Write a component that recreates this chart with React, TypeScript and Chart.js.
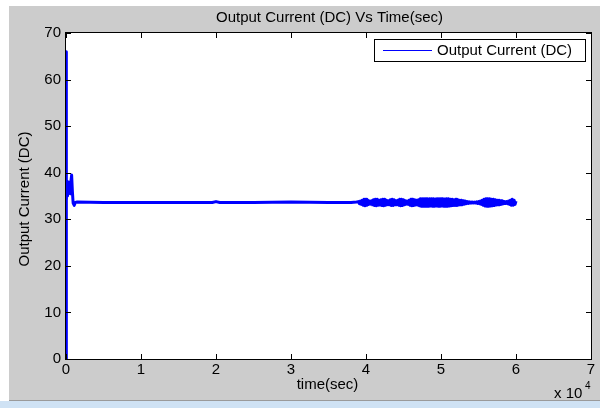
import React, { useEffect, useRef } from "react";
import { Chart, registerables } from "chart.js";

Chart.register(...registerables);

// ---- data ----
const earlyTime = [0, 1, 20, 40, 60, 100, 150, 200, 280, 350, 450, 550, 650, 750, 850, 950, 1100, 1250];
const earlyCurrent = [0, 66, 55, 53, 36, 34, 37, 35, 38, 36, 37.5, 35.5, 38, 39.5, 36, 33.5, 33, 33.6];

const plateauTime = [1500, 5000, 10000, 15000, 19500, 20000, 20500, 25000, 30000, 35000, 38000, 38750];
const plateauCurrent = [33.7, 33.6, 33.6, 33.6, 33.6, 33.8, 33.6, 33.6, 33.7, 33.6, 33.6, 33.7];

const rippleTime = [
  39000, 39125, 39250, 39375, 39500, 39625, 39750, 39875, 40000, 40125,
  40250, 40375, 40500, 40625, 40750, 40875, 41000, 41125, 41250, 41375,
  41500, 41625, 41750, 41875, 42000, 42125, 42250, 42375, 42500, 42625,
  42750, 42875, 43000, 43125, 43250, 43375, 43500, 43625, 43750, 43875,
  44000, 44125, 44250, 44375, 44500, 44625, 44750, 44875, 45000, 45125,
  45250, 45375, 45500, 45625, 45750, 45875, 46000, 46125, 46250, 46375,
  46500, 46625, 46750, 46875, 47000, 47125, 47250, 47375, 47500, 47625,
  47750, 47875, 48000, 48125, 48250, 48375, 48500, 48625, 48750, 48875,
  49000, 49125, 49250, 49375, 49500, 49625, 49750, 49875, 50000, 50125,
  50250, 50375, 50500, 50625, 50750, 50875, 51000, 51125, 51250, 51375,
  51500, 51625, 51750, 51875, 52000, 52125, 52250, 52375, 52500, 52625,
  52750, 52875, 53000, 53125, 53250, 53375, 53500, 53625, 53750, 53875,
  54000, 54125, 54250, 54375, 54500, 54625, 54750, 54875, 55000, 55125,
  55250, 55375, 55500, 55625, 55750, 55875, 56000, 56125, 56250, 56375,
  56500, 56625, 56750, 56875, 57000, 57125, 57250, 57375, 57500, 57625,
  57750, 57875, 58000, 58125, 58250, 58375, 58500, 58625, 58750, 58875,
  59000, 59125, 59250, 59375, 59500, 59625, 59750, 59875, 60000,
];
const rippleCurrent = [
  33.8, 33.35, 33.9, 33.2, 34.1, 33.0, 34.3, 32.9, 34.3, 33.0,
  34.1, 33.2, 33.9, 33.25, 34.0, 33.1, 34.2, 32.95, 34.3, 32.9,
  34.3, 33.0, 34.1, 33.05, 34.2, 32.95, 34.3, 32.9, 34.3, 33.0,
  34.1, 33.15, 34.0, 33.1, 34.2, 32.95, 34.3, 32.95, 34.2, 33.1,
  34.0, 33.15, 34.1, 33.0, 34.3, 32.9, 34.3, 32.95, 34.2, 33.1,
  34.0, 33.25, 33.9, 33.2, 34.1, 33.0, 34.3, 32.9, 34.3, 32.95,
  34.2, 33.05, 34.1, 33.05, 34.2, 32.9, 34.4, 32.8, 34.4, 32.8,
  34.4, 32.8, 34.4, 32.8, 34.35, 32.8, 34.4, 32.85, 34.4, 32.8,
  34.4, 32.8, 34.35, 32.85, 34.4, 32.8, 34.4, 32.8, 34.4, 32.85,
  34.4, 32.8, 34.35, 32.8, 34.4, 32.8, 34.4, 32.85, 34.3, 32.9,
  34.3, 32.95, 34.2, 32.95, 34.3, 32.95, 34.2, 33.05, 34.1, 33.1,
  34.1, 33.15, 34.0, 33.25, 33.9, 33.35, 33.8, 33.42, 33.75, 33.48,
  33.7, 33.5, 33.7, 33.5, 33.7, 33.5, 33.75, 33.42, 33.8, 33.35,
  33.9, 33.2, 34.1, 33.0, 34.3, 32.85, 34.4, 32.8, 34.4, 32.8,
  34.4, 32.85, 34.3, 32.9, 34.3, 32.95, 34.2, 33.05, 34.1, 33.1,
  34.1, 33.15, 34.0, 33.25, 33.9, 33.35, 33.8, 33.4, 33.8, 33.35,
  33.9, 33.2, 34.1, 33.0, 34.3, 33.0, 34.1, 33.2, 33.9,
];

const xTicks = [0, 10000, 20000, 30000, 40000, 50000, 60000, 70000];
const yTicks = [0, 10, 20, 30, 40, 50, 60, 70];

const titleText = "Output Current (DC) Vs Time(sec)";
const xLabel = "time(sec)";
const yLabel = "Output Current (DC)";
const seriesName = "Output Current (DC)";

const FONT = "'Liberation Sans', Arial, sans-serif";
const BLUE = "#0000ff";

export default function App() {
  const ref = useRef<HTMLCanvasElement | null>(null);

  useEffect(() => {
    const canvas = ref.current;
    if (!canvas) return;

    const times = [...earlyTime, ...plateauTime, ...rippleTime];
    const values = [...earlyCurrent, ...plateauCurrent, ...rippleCurrent];
    const points = times.map((t, i) => ({ x: t, y: values[i] }));

    const decor = {
      id: "matlabDecor",
      beforeDraw(chart: any) {
        const ctx = chart.ctx;
        const { left, top, right, bottom } = chart.chartArea;
        ctx.save();
        ctx.fillStyle = "#ffffff";
        ctx.fillRect(0, 0, 600, 408);
        ctx.fillStyle = "#cccccc";
        ctx.fillRect(9, 6, 591, 395);
        ctx.fillStyle = "#9a9a9a";
        ctx.fillRect(9, 400, 591, 1);
        ctx.fillStyle = "#cfe2f4";
        ctx.fillRect(0, 401, 600, 7);
        ctx.fillStyle = "#ffffff";
        ctx.fillRect(left, top, right - left, bottom - top);
        ctx.restore();
      },
      afterDraw(chart: any) {
        const ctx = chart.ctx;
        const { left, top, right, bottom } = chart.chartArea;
        const xs = chart.scales.x;
        const ys = chart.scales.y;
        ctx.save();
        // box
        ctx.strokeStyle = "#000000";
        ctx.lineWidth = 1;
        ctx.strokeRect(left - 0.5, top - 0.5, right - left + 1, bottom - top + 1);
        // ticks
        ctx.beginPath();
        xTicks.forEach((v) => {
          const px = Math.round(xs.getPixelForValue(v)) + 0.5;
          ctx.moveTo(px, bottom);
          ctx.lineTo(px, bottom - 5);
          ctx.moveTo(px, top);
          ctx.lineTo(px, top + 5);
        });
        yTicks.forEach((v) => {
          const py = Math.round(ys.getPixelForValue(v)) + 0.5;
          ctx.moveTo(left, py);
          ctx.lineTo(left + 5, py);
          ctx.moveTo(right, py);
          ctx.lineTo(right - 5, py);
        });
        ctx.stroke();

        ctx.fillStyle = "#000000";
        ctx.font = `15px ${FONT}`;
        ctx.textBaseline = "middle";
        ctx.textAlign = "center";
        ctx.fillText(titleText, (left + right) / 2 + 1, 18);
        ctx.fillText(xLabel, (left + right) / 2 - 1, 385);
        // exponent
        ctx.textAlign = "left";
        ctx.fillText("x 10", 554, 394);
        ctx.font = `10px ${FONT}`;
        ctx.fillText("4", 585, 386);
        // y label
        ctx.font = `15px ${FONT}`;
        ctx.save();
        ctx.translate(25, (top + bottom) / 2 + 3);
        ctx.rotate(-Math.PI / 2);
        ctx.textAlign = "center";
        ctx.fillText(yLabel, 0, 0);
        ctx.restore();

        // legend
        ctx.fillStyle = "#ffffff";
        ctx.fillRect(374, 39, 212, 23);
        ctx.strokeStyle = "#000000";
        ctx.strokeRect(374.5, 39.5, 211, 22);
        ctx.strokeStyle = BLUE;
        ctx.beginPath();
        ctx.moveTo(383, 50.5);
        ctx.lineTo(432, 50.5);
        ctx.stroke();
        ctx.fillStyle = "#000000";
        ctx.textAlign = "left";
        ctx.fillText(seriesName, 437, 51);
        ctx.restore();
      },
    };

    const chart = new Chart(canvas, {
      type: "line",
      data: {
        datasets: [
          {
            data: points,
            borderColor: BLUE,
            backgroundColor: BLUE,
            borderWidth: 3,
            pointRadius: 0,
            tension: 0,
            fill: false,
            borderJoinStyle: "round",
            clip: 0,
          } as any,
        ],
      },
      options: {
        animation: false,
        responsive: false,
        maintainAspectRatio: false,
        layout: { padding: { top: 33, right: 9, left: 0, bottom: 0 } },
        plugins: {
          legend: { display: false },
          title: { display: false },
          tooltip: { enabled: false },
        },
        scales: {
          x: {
            type: "linear",
            min: 0,
            max: 70000,
            afterBuildTicks: (s: any) => {
              s.ticks = xTicks.map((v) => ({ value: v }));
            },
            ticks: {
              callback: (v: any) => String(Number(v) / 10000),
              font: { family: FONT, size: 15 },
              color: "#000000",
              padding: 2,
              maxRotation: 0,
              autoSkip: false,
            },
            grid: { display: false, drawTicks: false },
            border: { display: false },
            afterFit: (s: any) => {
              s.height = 49;
            },
          },
          y: {
            type: "linear",
            min: 0,
            max: 70,
            afterBuildTicks: (s: any) => {
              s.ticks = yTicks.map((v) => ({ value: v }));
            },
            ticks: {
              font: { family: FONT, size: 15 },
              color: "#000000",
              padding: 5,
            },
            grid: { display: false, drawTicks: false },
            border: { display: false },
            afterFit: (s: any) => {
              s.width = 66;
            },
          },
        },
      },
      plugins: [decor],
    });

    return () => chart.destroy();
  }, []);

  return (
    <div style={{ position: "fixed", left: 0, top: 0, width: 600, height: 408 }}>
      <canvas ref={ref} width={600} height={408} style={{ display: "block", width: 600, height: 408 }} />
    </div>
  );
}
